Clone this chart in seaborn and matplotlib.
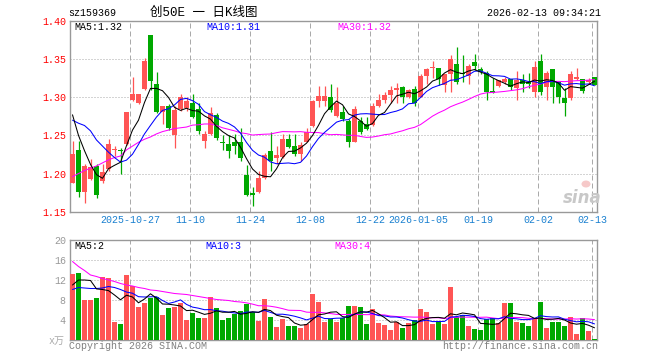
import numpy as np
import pandas as pd
import matplotlib
matplotlib.use("Agg")
import matplotlib.pyplot as plt
from matplotlib.patches import Ellipse
import seaborn as sns

# ---------------- data ----------------
tick_idx = [10, 20, 30, 40, 50, 58, 68, 78, 87]
tick_labels = ["2025-10-27", "11-10", "11-24", "12-08", "12-22",
               "2026-01-05", "01-19", "02-02", "02-13"]

opens = [1.188, 1.231, 1.176, 1.193, 1.210, 1.190, 1.206, 1.231, 1.231, 1.239,
         1.296, 1.293, 1.311, 1.381, 1.317, 1.281, 1.288, 1.251, 1.284, 1.286,
         1.293, 1.284, 1.243, 1.252, 1.277, 1.241, 1.239, 1.241, 1.242, 1.198,
         1.175, 1.176, 1.194, 1.229, 1.221, 1.222, 1.245, 1.236, 1.225, 1.242,
         1.263, 1.295, 1.295, 1.301, 1.276, 1.281, 1.269, 1.241, 1.269, 1.265,
         1.264, 1.288, 1.296, 1.303, 1.309, 1.313, 1.300, 1.311, 1.300, 1.328,
         1.338, 1.338, 1.316, 1.331, 1.344, 1.332, 1.328, 1.346, 1.337, 1.332,
         1.308, 1.315, 1.320, 1.324, 1.312, 1.323, 1.320, 1.307, 1.347, 1.314,
         1.337, 1.320, 1.299, 1.299, 1.324, 1.324, 1.320, 1.326]
highs = [1.243, 1.243, 1.212, 1.219, 1.213, 1.213, 1.245, 1.236, 1.234, 1.281,
         1.326, 1.304, 1.352, 1.381, 1.333, 1.289, 1.291, 1.289, 1.304, 1.301,
         1.304, 1.292, 1.256, 1.287, 1.280, 1.250, 1.250, 1.252, 1.260, 1.211,
         1.182, 1.204, 1.227, 1.254, 1.236, 1.252, 1.252, 1.252, 1.241, 1.260,
         1.296, 1.315, 1.315, 1.318, 1.313, 1.289, 1.271, 1.289, 1.274, 1.274,
         1.293, 1.304, 1.307, 1.315, 1.319, 1.315, 1.311, 1.315, 1.330, 1.339,
         1.348, 1.339, 1.331, 1.355, 1.366, 1.355, 1.344, 1.357, 1.340, 1.335,
         1.325, 1.323, 1.326, 1.324, 1.334, 1.331, 1.332, 1.347, 1.357, 1.334,
         1.337, 1.320, 1.312, 1.334, 1.338, 1.324, 1.325, 1.327]
lows = [1.187, 1.169, 1.161, 1.191, 1.168, 1.187, 1.204, 1.223, 1.200, 1.238,
        1.295, 1.291, 1.309, 1.309, 1.279, 1.265, 1.257, 1.233, 1.282, 1.282,
        1.273, 1.252, 1.233, 1.250, 1.244, 1.231, 1.220, 1.225, 1.217, 1.171,
        1.158, 1.175, 1.193, 1.204, 1.212, 1.221, 1.233, 1.223, 1.216, 1.241,
        1.261, 1.287, 1.288, 1.281, 1.274, 1.269, 1.235, 1.241, 1.252, 1.257,
        1.263, 1.287, 1.293, 1.293, 1.293, 1.293, 1.299, 1.289, 1.300, 1.317,
        1.325, 1.316, 1.307, 1.307, 1.318, 1.320, 1.318, 1.336, 1.330, 1.296,
        1.305, 1.314, 1.318, 1.310, 1.297, 1.307, 1.312, 1.301, 1.303, 1.297,
        1.292, 1.292, 1.275, 1.297, 1.322, 1.305, 1.318, 1.316]
closes = [1.226, 1.176, 1.210, 1.209, 1.172, 1.202, 1.239, 1.232, 1.229, 1.281,
          1.304, 1.304, 1.348, 1.321, 1.281, 1.289, 1.260, 1.283, 1.301, 1.295,
          1.274, 1.256, 1.252, 1.280, 1.247, 1.240, 1.230, 1.236, 1.220, 1.172,
          1.172, 1.194, 1.224, 1.217, 1.224, 1.245, 1.235, 1.226, 1.238, 1.255,
          1.295, 1.302, 1.302, 1.283, 1.293, 1.271, 1.242, 1.285, 1.254, 1.258,
          1.289, 1.296, 1.303, 1.309, 1.312, 1.300, 1.309, 1.293, 1.328, 1.337,
          1.339, 1.324, 1.331, 1.350, 1.320, 1.330, 1.341, 1.341, 1.333, 1.307,
          1.306, 1.322, 1.324, 1.314, 1.323, 1.318, 1.318, 1.340, 1.307, 1.332,
          1.313, 1.301, 1.293, 1.331, 1.327, 1.308, 1.323, 1.316]
volumes = [13.2, 13.5, 8.0, 8.0, 8.4, 12.6, 12.4, 3.6, 3.2, 13.0,
           10.8, 6.6, 7.4, 8.4, 8.6, 5.0, 6.4, 6.6, 7.4, 4.0,
           5.4, 4.4, 4.4, 8.6, 6.4, 4.0, 4.4, 5.2, 5.8, 7.2,
           5.6, 3.8, 8.2, 4.6, 2.6, 4.2, 2.8, 2.8, 2.4, 3.2,
           9.2, 7.6, 3.6, 4.2, 3.6, 4.4, 6.8, 6.8, 6.6, 3.2,
           6.2, 3.4, 3.0, 2.0, 3.6, 2.4, 3.4, 4.0, 6.2, 5.6,
           3.2, 3.6, 3.2, 10.6, 4.6, 5.0, 2.8, 2.2, 2.0, 4.2,
           4.4, 3.4, 7.4, 7.4, 3.6, 3.4, 2.8, 4.4, 7.6, 2.4,
           3.6, 3.6, 2.8, 4.6, 1.2, 4.4, 1.8, 0.2]

# moving-average values for the first days (history before the window)
ma5_head = [1.277, 1.250, 1.230, 1.212]
ma10_head = [1.270, 1.266, 1.263, 1.256, 1.244, 1.236, 1.228, 1.221, 1.215]
ma30_head = [1.196, 1.200, 1.204, 1.207, 1.210, 1.214, 1.218, 1.221, 1.223, 1.231,
             1.236, 1.241, 1.245, 1.248, 1.252, 1.255, 1.257, 1.259, 1.260, 1.261,
             1.2635, 1.264, 1.265, 1.265, 1.263, 1.260, 1.258, 1.256, 1.2535]
vma5_head = [11.0, 12.0, 12.0, 11.9]
vma10_head = [10.1, 10.5, 10.4, 10.3, 10.3, 10.4, 10.7, 10.5, 10.1]
vma30_head = [15.7, 14.7, 13.9, 13.0, 12.7, 12.3, 12.0, 11.7, 11.3, 11.0,
              10.8, 10.5, 10.3, 10.0, 9.9, 9.7, 9.5, 9.3, 9.2, 9.1,
              8.9, 8.7, 8.5, 8.3, 8.1, 8.0, 7.9, 7.7, 7.6]

price_ticks = [1.15, 1.20, 1.25, 1.30, 1.35, 1.40]
vol_ticks = [4, 8, 12, 16, 20]

# ---------------- derived ----------------
n = len(closes)
idx = np.arange(n)
df = pd.DataFrame({"x": idx, "open": opens, "high": highs, "low": lows,
                   "close": closes, "vol": volumes})


def moving(series, w, head):
    r = series.rolling(w).mean().to_numpy()
    r[:len(head)] = head
    return r


df["ma5"] = moving(df["close"], 5, ma5_head)
df["ma10"] = moving(df["close"], 10, ma10_head)
df["ma30"] = moving(df["close"], 30, ma30_head)
df["vma5"] = moving(df["vol"], 5, vma5_head)
df["vma10"] = moving(df["vol"], 10, vma10_head)
df["vma30"] = moving(df["vol"], 30, vma30_head)

UP = "#ff5555"
DOWN = "#00a800"
df["color"] = np.where(df["close"] >= df["open"], UP, DOWN)

# ---------------- style ----------------
sns.set_style("white")
plt.rcParams["font.family"] = ["Liberation Mono", "Noto Sans CJK SC", "DejaVu Sans"]
plt.rcParams["axes.linewidth"] = 1.0

W, H = 660, 360
fig = plt.figure(figsize=(W / 100, H / 100), dpi=100)
fig.patch.set_facecolor("white")


def fx(x):
    return x / W


def fy(y):
    return 1 - y / H


L, R = 70, 597.3
ax = fig.add_axes([fx(L), fy(211.7), (R - L) / W, (211.7 - 21) / H])
axv = fig.add_axes([fx(L), fy(340), (R - L) / W, 100 / H])

xlo = -2.5 / 6
xhi = xlo + (R - L) / 6
grid_x = [i - 2.5 / 6 for i in tick_idx]
GRID = "#aaaaaa"
FS = 7.2
LW = 0.75

for a in (ax, axv):
    a.set_xlim(xlo, xhi)
    for s in a.spines.values():
        s.set_color("#999999")
        s.set_linewidth(1.0)
    for gx in grid_x:
        a.axvline(gx, color=GRID, lw=0.72, ls=(0, (5, 3)), zorder=0)
    a.tick_params(axis="both", length=0)

# ---- main candles ----
body = np.maximum(np.abs(df["close"] - df["open"]), 0.0012)
bottom = np.minimum(df["open"], df["close"])
ax.vlines(df["x"], df["low"], df["high"], colors=df["color"], lw=0.9, zorder=2)
ax.bar(df["x"], body, bottom=bottom, width=0.8, color=df["color"], linewidth=0, zorder=3)

for col, c in (("ma30", "#ff00ff"), ("ma10", "#0000ff"), ("ma5", "#000000")):
    sns.lineplot(data=df, x="x", y=col, ax=ax, color=c, lw=LW, zorder=4)

ax.set_ylim(1.15, 1.40)
ax.set_yticks(price_ticks)
ax.set_yticklabels([f"{t:.2f}" for t in price_ticks], color="#ff0000", fontsize=FS)
for t in price_ticks[1:-1]:
    ax.axhline(t, color=GRID, lw=0.72, ls=(0, (1, 2)), zorder=0)
ax.set_xticks(grid_x)
ax.set_xticklabels(tick_labels, color="#1a80d0", fontsize=FS)
ax.tick_params(axis="x", pad=2.5)
ax.tick_params(axis="y", pad=3)
ax.set_xlabel("")
ax.set_ylabel("")

# ---- volume ----
axv.bar(df["x"], df["vol"], width=0.8, color=df["color"], linewidth=0, zorder=3)
for col, c in (("vma30", "#ff00ff"), ("vma10", "#0000ff"), ("vma5", "#000000")):
    sns.lineplot(data=df, x="x", y=col, ax=axv, color=c, lw=LW, zorder=4)
axv.set_ylim(0, 20)
axv.set_yticks(vol_ticks)
axv.set_yticklabels([str(t) for t in vol_ticks], color="#999999", fontsize=FS)
for t in vol_ticks[:-1]:
    axv.axhline(t, color=GRID, lw=0.72, ls=(0, (1, 2)), zorder=0)
axv.set_xticks([])
axv.tick_params(axis="y", pad=3)
axv.set_xlabel("")
axv.set_ylabel("")

# ---------------- texts ----------------
fig.text(fx(68), fy(13), "sz159369", fontsize=FS, ha="left", va="center", color="black")
fig.text(fx(204), fy(13), "创50E 一 日K线图", fontsize=9, ha="center", va="center",
         color="black", family=["Liberation Mono", "Noto Sans CJK SC"])
fig.text(fx(601), fy(13), "2026-02-13 09:34:21", fontsize=FS, ha="right", va="center",
         color="black")

fig.text(fx(74), fy(27.5), "MA5:1.32", fontsize=FS, ha="left", va="center", color="black")
fig.text(fx(206), fy(27.5), "MA10:1.31", fontsize=FS, ha="left", va="center", color="#0000ff")
fig.text(fx(337), fy(27.5), "MA30:1.32", fontsize=FS, ha="left", va="center", color="#ff00ff")

fig.text(fx(74), fy(246), "MA5:2", fontsize=FS, ha="left", va="center", color="black")
fig.text(fx(205), fy(246), "MA10:3", fontsize=FS, ha="left", va="center", color="#0000ff")
fig.text(fx(334), fy(246), "MA30:4", fontsize=FS, ha="left", va="center", color="#ff00ff")

fig.text(fx(65), fy(340.5), "x万", fontsize=FS, ha="right", va="center", color="#aaaaaa",
         family=["Liberation Mono", "Noto Sans CJK SC"])
fig.text(fx(69), fy(346), "Copyright 2026 SINA.COM", fontsize=FS, ha="left", va="center",
         color="#808080")
fig.text(fx(598), fy(346), "http://finance.sina.com.cn", fontsize=FS, ha="right",
         va="center", color="#808080")

# sina watermark
fig.text(fx(582), fy(198), "sina", fontsize=12, ha="center", va="center", color="#c8c8c8",
         style="italic", weight="bold", family=["DejaVu Sans"])
fig.patches.append(Ellipse((fx(586), fy(184)), 9 / W, 7 / H, transform=fig.transFigure,
                           facecolor="#f6c4c4", edgecolor="none", alpha=0.9, zorder=5))

fig.savefig("out.png", dpi=100, facecolor="white")
